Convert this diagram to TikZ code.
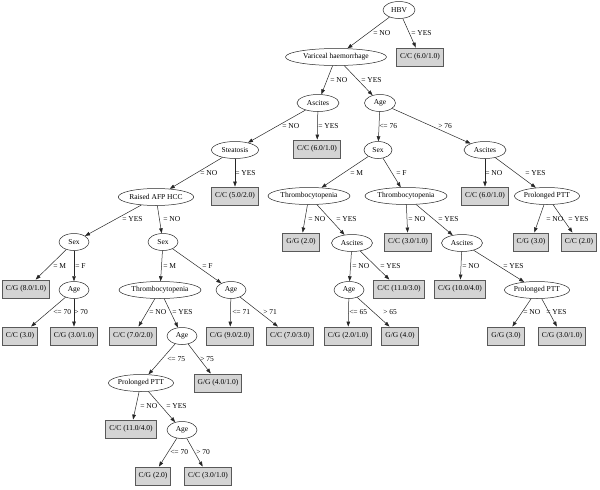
\documentclass[tikz,border=0pt]{standalone}
\usepackage{fontspec}
\setmainfont{Liberation Serif}
\usetikzlibrary{shapes.geometric,arrows.meta}
\begin{document}
\begin{tikzpicture}[x=1pt,y=-1pt,
  every node/.style={font=\fontsize{7.5}{9}\selectfont},
  dec/.style={ellipse,draw=black!85,line width=0.5pt,inner sep=0pt,minimum height=17pt,minimum width=#1},
  leaf/.style={rectangle,draw=black!65,line width=0.9pt,fill=black!17,inner xsep=3.5pt,inner ysep=0pt,minimum height=18pt},
  edge/.style={draw=black!85,line width=0.5pt,-{Triangle[length=5pt,width=3.6pt]}},
  lbl/.style={anchor=west,inner sep=0pt}]
\useasboundingbox (0,0) rectangle (600,490);
% nodes
\node[dec=32] (hbv) at (399,10) {HBV};
\node[leaf] (l1) at (420,57) {C/C (6.0/1.0)};
\node[dec=101] (var) at (336,57) {Variceal haemorrhage};
\node[dec=42] (asc1) at (318,103) {Ascites};
\node[dec=31] (age1) at (380,103) {Age};
\node[dec=47] (ste) at (235,150) {Steatosis};
\node[leaf] (l2) at (317,149) {C/C (6.0/1.0)};
\node[dec=28] (sex1) at (378,150) {Sex};
\node[dec=42] (asc2) at (485,150) {Ascites};
\node[dec=75] (raf) at (156,197) {Raised AFP HCC};
\node[leaf] (l3) at (235,196) {C/C (5.0/2.0)};
\node[dec=82] (thr1) at (309,196) {Thrombocytopenia};
\node[dec=82] (thr2) at (406,196) {Thrombocytopenia};
\node[leaf] (l4) at (485,196) {C/C (6.0/1.0)};
\node[dec=60] (ppt1) at (547,196) {Prolonged PTT};
\node[dec=30] (sex2) at (74,242) {Sex};
\node[dec=30] (sex3) at (163,242) {Sex};
\node[leaf] (l5) at (301,242) {G/G (2.0)};
\node[dec=41] (asc3) at (352,243) {Ascites};
\node[leaf] (l6) at (408,242) {C/C (3.0/1.0)};
\node[dec=41] (asc4) at (462,243) {Ascites};
\node[leaf] (l7) at (531,242) {C/G (3.0)};
\node[leaf] (l8) at (579,242) {C/C (2.0)};
\node[leaf] (l9) at (26,289) {C/G (8.0/1.0)};
\node[dec=30] (age2) at (74,290) {Age};
\node[dec=82] (thr3) at (160,290) {Thrombocytopenia};
\node[dec=30] (age3) at (231,290) {Age};
\node[dec=30] (age4) at (349,290) {Age};
\node[leaf] (l10) at (399,289) {C/C (11.0/3.0)};
\node[leaf] (l11) at (460,289) {C/G (10.0/4.0)};
\node[dec=64] (ppt2) at (537,290) {Prolonged PTT};
\node[leaf] (l12) at (20,336) {C/C (3.0)};
\node[leaf] (l13) at (74,336) {C/G (3.0/1.0)};
\node[leaf] (l14) at (133,336) {C/C (7.0/2.0)};
\node[dec=30] (age5) at (182,336) {Age};
\node[leaf] (l15) at (230,336) {C/G (9.0/2.0)};
\node[leaf] (l16) at (290,336) {C/C (7.0/3.0)};
\node[leaf] (l17) at (348,336) {C/G (2.0/1.0)};
\node[leaf] (l18) at (400,336) {G/G (4.0)};
\node[leaf] (l19) at (506,336) {G/G (3.0)};
\node[leaf] (l20) at (562,336) {C/G (3.0/1.0)};
\node[dec=62] (ppt3) at (141,383) {Prolonged PTT};
\node[leaf] (l21) at (218,383) {G/G (4.0/1.0)};
\node[leaf] (l22) at (131,429) {C/C (11.0/4.0)};
\node[dec=30] (age6) at (182,430) {Age};
\node[leaf] (l23) at (153,476) {C/G (2.0)};
\node[leaf] (l24) at (208,476) {C/C (3.0/1.0)};
% edges
\draw[edge] (hbv) -- (var) node[lbl] at (373,33) {= NO};
\draw[edge] (hbv) -- (l1) node[lbl] at (411,33) {= YES};
\draw[edge] (var) -- (asc1) node[lbl] at (330,80) {= NO};
\draw[edge] (var) -- (age1) node[lbl] at (361,80) {= YES};
\draw[edge] (asc1) -- (ste) node[lbl] at (282,126) {= NO};
\draw[edge] (asc1) -- (l2) node[lbl] at (318,126) {= YES};
\draw[edge] (age1) -- (sex1) node[lbl] at (379,126) {<= 76};
\draw[edge] (age1) -- (asc2) node[lbl] at (438,126) {> 76};
\draw[edge] (ste) -- (raf) node[lbl] at (200,173) {= NO};
\draw[edge] (ste) -- (l3) node[lbl] at (235,173) {= YES};
\draw[edge] (sex1) -- (thr1) node[lbl] at (350,173) {= M};
\draw[edge] (sex1) -- (thr2) node[lbl] at (396,173) {= F};
\draw[edge] (asc2) -- (l4) node[lbl] at (485,173) {= NO};
\draw[edge] (asc2) -- (ppt1) node[lbl] at (525,173) {= YES};
\draw[edge] (raf) -- (sex2) node[lbl] at (122,219) {= YES};
\draw[edge] (raf) -- (sex3) node[lbl] at (163,219) {= NO};
\draw[edge] (thr1) -- (l5) node[lbl] at (308,219) {= NO};
\draw[edge] (thr1) -- (asc3) node[lbl] at (336,219) {= YES};
\draw[edge] (thr2) -- (l6) node[lbl] at (408,219) {= NO};
\draw[edge] (thr2) -- (asc4) node[lbl] at (438,219) {= YES};
\draw[edge] (ppt1) -- (l7) node[lbl] at (546,219) {= NO};
\draw[edge] (ppt1) -- (l8) node[lbl] at (568,219) {= YES};
\draw[edge] (sex2) -- (l9) node[lbl] at (53,266) {= M};
\draw[edge] (sex2) -- (age2) node[lbl] at (75,266) {= F};
\draw[edge] (sex3) -- (thr3) node[lbl] at (163,266) {= M};
\draw[edge] (sex3) -- (age3) node[lbl] at (202,266) {= F};
\draw[edge] (asc3) -- (age4) node[lbl] at (352,266) {= NO};
\draw[edge] (asc3) -- (l10) node[lbl] at (380,266) {= YES};
\draw[edge] (asc4) -- (l11) node[lbl] at (462,266) {= NO};
\draw[edge] (asc4) -- (ppt2) node[lbl] at (503,266) {= YES};
\draw[edge] (age2) -- (l12) node[lbl] at (53,312) {<= 70};
\draw[edge] (age2) -- (l13) node[lbl] at (74,312) {> 70};
\draw[edge] (thr3) -- (l14) node[lbl] at (149,312) {= NO};
\draw[edge] (thr3) -- (age5) node[lbl] at (172,312) {= YES};
\draw[edge] (age3) -- (l15) node[lbl] at (232,312) {<= 71};
\draw[edge] (age3) -- (l16) node[lbl] at (263,312) {> 71};
\draw[edge] (age4) -- (l17) node[lbl] at (349,312) {<= 65};
\draw[edge] (age4) -- (l18) node[lbl] at (383,312) {> 65};
\draw[edge] (ppt2) -- (l19) node[lbl] at (523,312) {= NO};
\draw[edge] (ppt2) -- (l20) node[lbl] at (546,312) {= YES};
\draw[edge] (age5) -- (ppt3) node[lbl] at (167,359) {<= 75};
\draw[edge] (age5) -- (l21) node[lbl] at (200,359) {> 75};
\draw[edge] (ppt3) -- (l22) node[lbl] at (140,406) {= NO};
\draw[edge] (ppt3) -- (age6) node[lbl] at (166,406) {= YES};
\draw[edge] (age6) -- (l23) node[lbl] at (170,452) {<= 70};
\draw[edge] (age6) -- (l24) node[lbl] at (196,452) {> 70};
\end{tikzpicture}
\end{document}
